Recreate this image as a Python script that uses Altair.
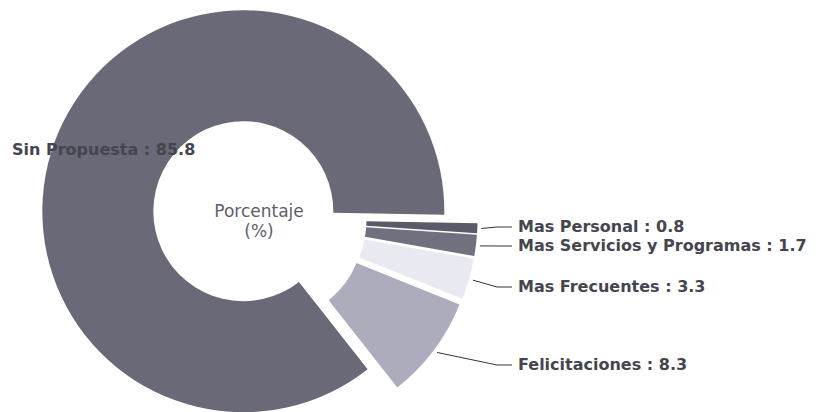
import altair as alt
import pandas as pd

# ---- data ----
categories = ["Mas Personal", "Mas Servicios y Programas", "Mas Frecuentes",
              "Felicitaciones", "Sin Propuesta"]
values = [0.8, 1.7, 3.3, 8.3, 85.8]
center_lines = ["Porcentaje", "(%)"]

# ---- styling / layout ----
colors = ["#5a5a68", "#70707f", "#e9e9f1", "#acacbc", "#696977"]
W, H = 810, 404
CX, CY = 251, 211          # donut centre (plot px)
R_IN, R_OUT = 90, 201
EXPLODE = 17.5
START_DEG = 91
LABEL_X = [510, 510, 510, 510, 4]
LABEL_Y = [219, 238, 279, 357, 142]
ELBOW = 21
END_GAP = 6

df = pd.DataFrame({
    "category": categories,
    "value": values,
    "order": list(range(len(categories))),
    "lx": LABEL_X,
    "ly": LABEL_Y,
})

base = (
    alt.Chart(df)
    .transform_window(cum="sum(value)", sort=[alt.SortField("order")], frame=[None, 0])
    .transform_joinaggregate(total="sum(value)")
    .transform_calculate(
        t0=f"{START_DEG}*PI/180 + (datum.cum - datum.value)/datum.total*2*PI",
        t1=f"{START_DEG}*PI/180 + datum.cum/datum.total*2*PI",
    )
    .transform_calculate(mid="(datum.t0 + datum.t1)/2")
    .transform_calculate(
        ox=f"{CX} + {EXPLODE}*sin(datum.mid)",
        oy=f"{CY} - {EXPLODE}*cos(datum.mid)",
    )
    .transform_calculate(
        sx=f"datum.ox + {R_OUT + 4}*sin(datum.mid)",
        sy=f"datum.oy - {R_OUT + 4}*cos(datum.mid)",
        ex=f"datum.lx - {ELBOW}",
        fx=f"datum.lx - {END_GAP}",
        label="datum.category + ' : ' + format(datum.value, '.1f')",
    )
)

arcs = base.mark_arc(innerRadius=R_IN, outerRadius=R_OUT).encode(
    theta=alt.Theta("t0:Q", scale=None, stack=False),
    theta2=alt.Theta2("t1:Q"),
    x=alt.X("ox:Q", scale=None),
    y=alt.Y("oy:Q", scale=None),
    color=alt.Color("category:N", scale=alt.Scale(domain=categories, range=colors), legend=None),
)

small = base.transform_filter("datum.category != 'Sin Propuesta'")

lead1 = small.mark_rule(color="#333333", strokeWidth=1).encode(
    x=alt.X("sx:Q", scale=None), y=alt.Y("sy:Q", scale=None),
    x2=alt.X2("ex:Q"), y2=alt.Y2("ly:Q"),
)
lead2 = small.mark_rule(color="#333333", strokeWidth=1).encode(
    x=alt.X("ex:Q", scale=None), y=alt.Y("ly:Q", scale=None),
    x2=alt.X2("fx:Q"), y2=alt.Y2("ly:Q"),
)

labels = base.mark_text(
    align="left", baseline="middle", font="DejaVu Sans", fontWeight="bold",
    fontSize=16, color="#45454f",
).encode(
    x=alt.X("lx:Q", scale=None), y=alt.Y("ly:Q", scale=None), text="label:N",
)

cdf = pd.DataFrame({"line": center_lines, "i": list(range(len(center_lines)))})
center = (
    alt.Chart(cdf)
    .transform_calculate(py=f"{CY - 7} + datum.i*20")
    .mark_text(align="center", baseline="middle", font="DejaVu Sans",
               fontSize=17, color="#5e5e68")
    .encode(x=alt.value(CX), y=alt.Y("py:Q", scale=None), text="line:N")
)

chart = (
    alt.layer(arcs, lead1, lead2, labels, center)
    .properties(width=W, height=H, padding=0, autosize=alt.AutoSizeParams(type="none"))
    .configure_view(stroke=None)
)

chart.save("out.html", embed_options={"renderer": "svg", "actions": False})
